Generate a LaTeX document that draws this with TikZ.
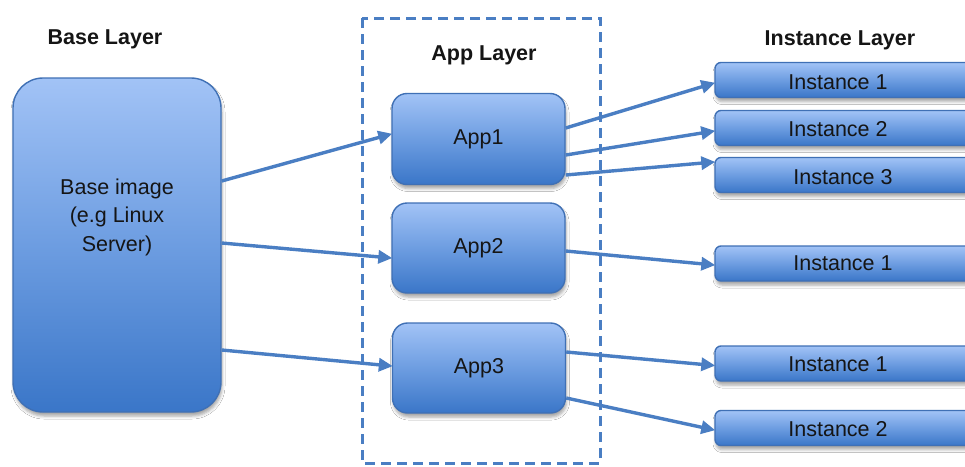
\documentclass[tikz,border=0pt]{standalone}
\usepackage{fontspec}
\setmainfont{Liberation Sans}
\usetikzlibrary{arrows.meta,shadows.blur}

\definecolor{boxtop}{HTML}{A2C3F6}
\definecolor{boxmid}{HTML}{6D9DE1}
\definecolor{boxbot}{HTML}{3A76C8}
\definecolor{boxline}{HTML}{3F70B5}
\definecolor{flow}{HTML}{4A7EC3}
\definecolor{ink}{HTML}{151515}

\tikzset{
  labelfont/.style={text=ink, font=\fontsize{21.5}{28.5}\selectfont},
  bluebox/.style={draw=boxline, line width=1.4pt,
    top color=boxtop, bottom color=boxbot, middle color=boxmid,
    blur shadow={shadow xshift=1pt, shadow yshift=-4pt,
      shadow blur radius=3pt, shadow opacity=35},
    labelfont, align=center, inner sep=0pt},
  basebox/.style={bluebox, rounded corners=30pt,
    minimum width=208pt, minimum height=334pt},
  appbox/.style={bluebox, rounded corners=15pt,
    minimum width=173pt, minimum height=91pt},
  instbox/.style={bluebox, rounded corners=6pt,
    minimum width=260pt, minimum height=35pt},
  title/.style={text=ink, font=\bfseries\fontsize{21.5}{26}\selectfont},
  link/.style={draw=flow, line width=3.4pt,
    -{Triangle[length=14pt,width=13pt]}, shorten >=-1pt},
}

\begin{document}
\begin{tikzpicture}[x=1pt, y=-1pt]
  \clip (0,0) rectangle (965,466);
  \fill[white] (0,0) rectangle (965,466);

  % titles
  \node[title] (tbase) at (105,39) {Base Layer};
  \node[title] (tapp)  at (484,55) {App Layer};
  \node[title] (tinst) at (840,40) {Instance Layer};

  % app layer frame
  \draw[flow, line width=3pt, dash pattern=on 10pt off 6pt]
    (362,18) rectangle (600,463);

  % base image
  \node[basebox, label={[labelfont, align=center, yshift=28pt]center:Base image\\(e.g Linux\\Server)}] (base) at (117,245) {};

  % applications
  \node[appbox] (app1) at (478.5,139) {App1};
  \node[appbox, minimum height=90pt] (app2) at (478.5,248) {App2};
  \node[appbox, minimum height=90pt] (app3) at (479,368) {App3};

  % instances
  \node[instbox, label={[labelfont, xshift=-7pt, yshift=-2pt]center:Instance 1}] (i11) at (845,80) {};
  \node[instbox, label={[labelfont, xshift=-7pt, yshift=-1pt]center:Instance 2}] (i12) at (845,128) {};
  \node[instbox, label={[labelfont, xshift=-2pt, yshift=-2pt]center:Instance 3}] (i13) at (845,175) {};
  \node[instbox, label={[labelfont, xshift=-2pt, yshift=0pt]center:Instance 1}] (i21) at (845,263.5) {};
  \node[instbox, label={[labelfont, xshift=-7pt, yshift=-1pt]center:Instance 1}] (i31) at (845,363.5) {};
  \node[instbox, label={[labelfont, xshift=-7pt, yshift=-1pt]center:Instance 2}] (i32) at (845,428) {};

  % base -> apps
  \draw[link] ([yshift=64pt]base.east) -- ([yshift=5pt]app1.west);
  \draw[link] ([yshift=2pt]base.east) -- ([yshift=-10pt]app2.west);
  \draw[link] ([yshift=-105pt]base.east) -- ([yshift=2pt]app3.west);

  % apps -> instances
  \draw[link] ([yshift=11pt]app1.east) -- ([yshift=-3pt]i11.west);
  \draw[link] ([yshift=-16pt]app1.east) -- ([yshift=-3pt]i12.west);
  \draw[link] ([yshift=-36pt]app1.east) -- ([yshift=13pt]i13.west);
  \draw[link] ([yshift=-3pt]app2.east) -- ([yshift=-1.5pt]i21.west);
  \draw[link] ([yshift=16pt]app3.east) -- ([yshift=-2pt]i31.west);
  \draw[link] ([yshift=-30pt]app3.east) -- ([yshift=-2pt]i32.west);
\end{tikzpicture}
\end{document}
